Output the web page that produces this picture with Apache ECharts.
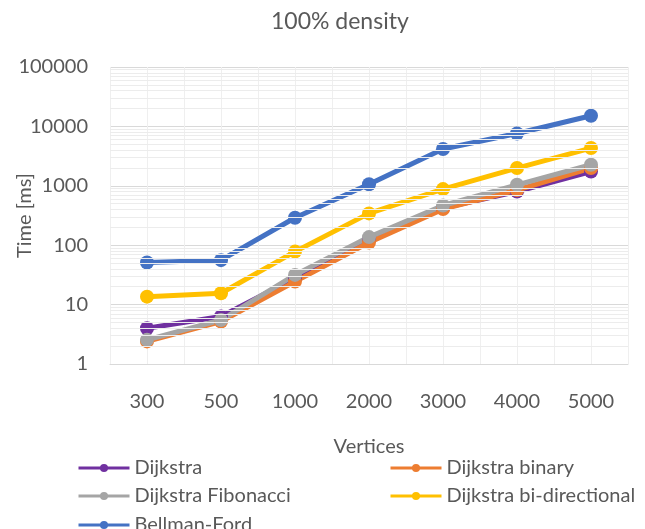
<!DOCTYPE html>
<html>
<head>
<meta charset="utf-8">
<script src="https://cdn.jsdelivr.net/npm/echarts@6/dist/echarts.min.js"></script>
<style>
  html, body { margin: 0; padding: 0; background: #fff; }
  #main { width: 645px; height: 529px; }
</style>
</head>
<body>
<div id="main"></div>
<script>
// vertices count on the x axis
var vertices = ['300', '500', '1000', '2000', '3000', '4000', '5000'];

// running times in ms
var dijkstra      = [4.0, 6.3, 27.8, 123, 420, 800, 1740];
var dijkstraBin   = [2.4, 5.2, 24.4, 111, 405, 850, 1990];
var dijkstraFib   = [2.55, 5.5, 31.6, 137, 466, 1040, 2260];
var dijkstraBiDir = [13.6, 15.5, 78, 343, 880, 1990, 4320];
var bellmanFord   = [51, 56, 290, 1060, 4170, 7600, 15100];

// light grid lines between the decades (2..9 x 10^k)
var minorLines = [2, 3, 4, 5, 6, 7, 8, 9, 20, 30, 40, 50, 60, 70, 80, 90,
    200, 300, 400, 500, 600, 700, 800, 900, 2000, 3000, 4000, 5000, 6000, 7000, 8000, 9000,
    20000, 30000, 40000, 50000, 60000, 70000, 80000, 90000];

var font = 'Lato';
var textColor = '#595959';

function lineSeries(name, data, color) {
    return {
        name: name,
        type: 'line',
        data: data,
        symbol: 'circle',
        symbolSize: 14,
        itemStyle: { color: color },
        lineStyle: { color: color, width: 5 },
        z: 3
    };
}

// one legend box per entry so the two-column layout matches
function legendItem(name, left, top) {
    return {
        data: [name],
        left: left,
        top: top,
        itemWidth: 51,
        itemHeight: 10,
        lineStyle: { width: 3 },
        textStyle: { fontFamily: font, fontSize: 20, color: textColor }
    };
}

var myChart = echarts.init(document.getElementById('main'));
var option = {
    animation: false,
    title: {
        text: '100% density',
        left: 266,
        top: 5,
        textStyle: { fontFamily: font, fontSize: 23, fontWeight: 'normal', color: textColor }
    },
    legend: [
        legendItem('Dijkstra', 72, 453),
        legendItem('Dijkstra binary', 384, 453),
        legendItem('Dijkstra Fibonacci', 72, 481),
        legendItem('Dijkstra bi-directional', 384, 481),
        legendItem('Bellman-Ford', 72, 510)
    ],
    grid: { left: 110, right: 17, top: 67, bottom: 165, outerBoundsMode: 'none' },
    xAxis: [{
        type: 'category',
        data: vertices,
        boundaryGap: true,
        name: 'Vertices',
        nameLocation: 'middle',
        nameGap: 73,
        nameMoveOverlap: false,
        nameTextStyle: { fontFamily: font, fontSize: 20, color: textColor },
        axisLine: { lineStyle: { color: '#d9d9d9' } },
        axisTick: { show: false },
        axisLabel: { fontFamily: font, fontSize: 20, color: textColor, margin: 28 },
        splitLine: { show: false }
    }, {
        // hidden helper axis for the vertical grid lines every half category
        type: 'value',
        min: 0,
        max: 14,
        interval: 1,
        show: true,
        axisLine: { show: false },
        axisTick: { show: false },
        axisLabel: { show: false },
        splitLine: { show: true, lineStyle: { color: '#efefef' } }
    }],
    yAxis: {
        type: 'log',
        logBase: 10,
        min: 1,
        max: 100000,
        name: 'Time [ms]',
        nameLocation: 'middle',
        nameGap: 75,
        nameMoveOverlap: false,
        nameTextStyle: { fontFamily: font, fontSize: 20, color: textColor },
        axisLine: { show: false },
        axisTick: { show: false },
        axisLabel: {
            fontFamily: font, fontSize: 20, color: textColor, margin: 22,
            formatter: function (v) { return String(Math.round(v)); }
        },
        splitLine: { lineStyle: { color: '#d9d9d9' } }
    },
    series: [
        {
            name: 'minor grid',
            type: 'line',
            data: [],
            silent: true,
            z: 1,
            markLine: {
                silent: true,
                symbol: 'none',
                label: { show: false },
                lineStyle: { color: '#ececec', width: 1, type: 'solid' },
                data: minorLines.map(function (v) { return { yAxis: v }; })
            }
        },
        lineSeries('Dijkstra', dijkstra, '#7030A0'),
        lineSeries('Dijkstra binary', dijkstraBin, '#ED7D31'),
        lineSeries('Dijkstra Fibonacci', dijkstraFib, '#A5A5A5'),
        lineSeries('Dijkstra bi-directional', dijkstraBiDir, '#FFC000'),
        lineSeries('Bellman-Ford', bellmanFord, '#4472C4')
    ]
};
myChart.setOption(option);
</script>
</body>
</html>
